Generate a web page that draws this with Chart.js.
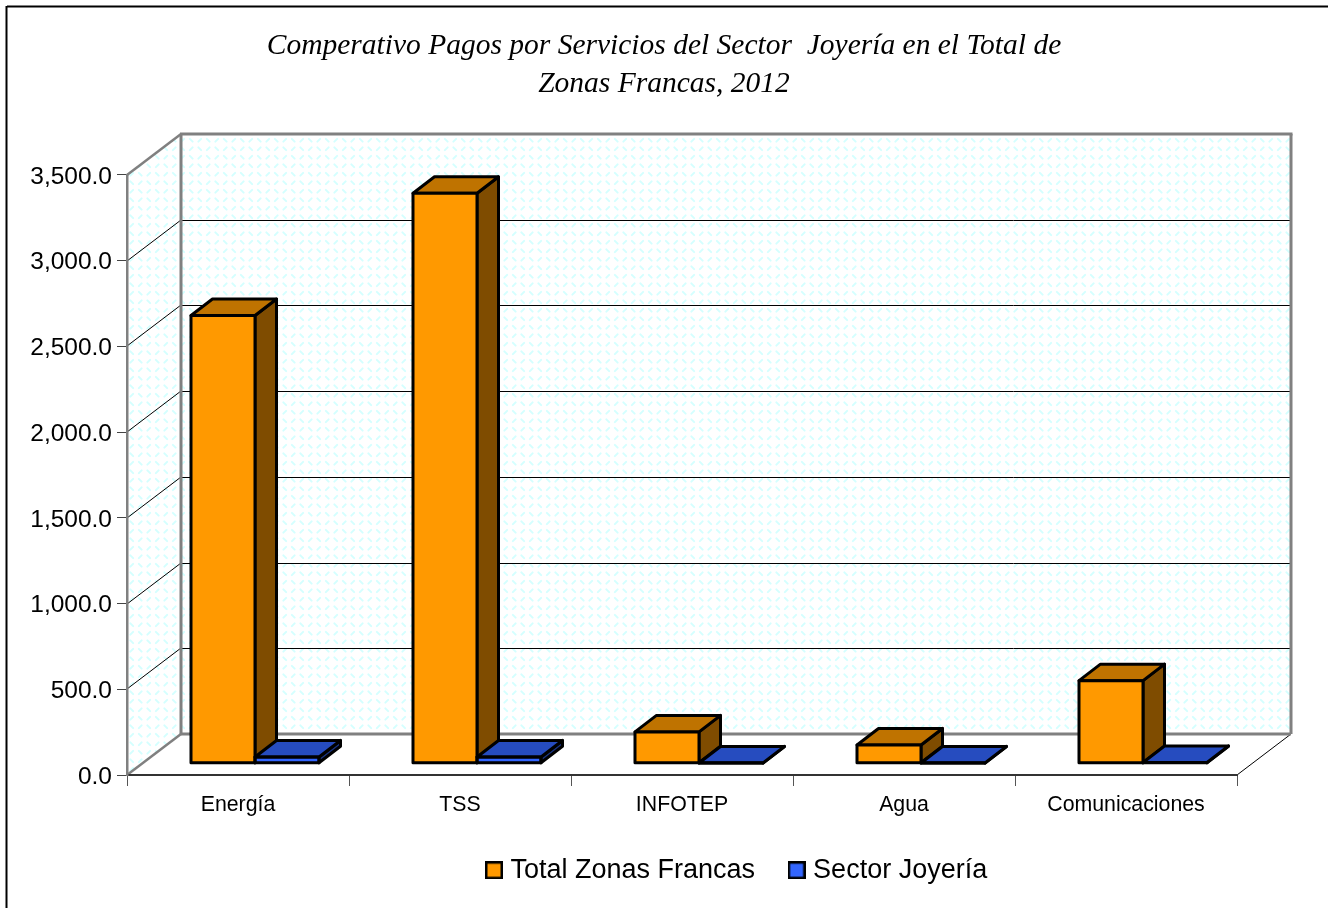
<!DOCTYPE html>
<html><head><meta charset="utf-8">
<style>html,body{margin:0;padding:0;background:#fff}#wrap{width:1328px;height:908px}</style>
<script src="https://cdn.jsdelivr.net/npm/chart.js@4"></script>
</head><body><div id="wrap"><canvas id="c" width="1328" height="908"></canvas></div>
<script>
const categories = ["Energía","TSS","INFOTEP","Agua","Comunicaciones"];
const totalZonas = [2612,3325,183,107,482];
const sectorJoyeria = [37,37,2,2,5];
const titleLines = ["Comperativo Pagos por Servicios del Sector  Joyería en el Total de","Zonas Francas, 2012"];
const seriesNames = ["Total Zonas Francas","Sector Joyería"];

const WALL = {dx:54, dy:41};
const BAR = {sx:17, sy:-11.7, dx:21.5, dy:16.5};
const STYLE = [
 {front:'#ff9900', top:'#bf7300', side:'#7f4c00'},
 {front:'#3366ff', top:'#264cbf', side:'#19337f'}
];
const OUT = 3;

function patternTile(ctx){
  const t=document.createElement('canvas'); t.width=17; t.height=17;
  const g=t.getContext('2d'); g.strokeStyle='#d4ffff'; g.lineWidth=2; g.lineCap='round';
  const seg=(x,y,d)=>{g.beginPath();g.moveTo(x-1.4,y-1.4*d);g.lineTo(x+1.4,y+1.4*d);g.stroke();};
  seg(4.25,4.25,1);seg(12.75,4.25,-1);seg(4.25,12.75,-1);seg(12.75,12.75,1);
  return ctx.createPattern(t,'repeat');
}
function poly(ctx,pts,fill,stroke,lw){
  ctx.beginPath();pts.forEach((p,i)=>i?ctx.lineTo(p[0],p[1]):ctx.moveTo(p[0],p[1]));ctx.closePath();
  if(fill){ctx.fillStyle=fill;ctx.fill();}
  if(stroke){ctx.strokeStyle=stroke;ctx.lineWidth=lw;ctx.lineJoin='round';ctx.stroke();}
}
function line(ctx,a,b,c,d,col,w){ctx.beginPath();ctx.moveTo(a,b);ctx.lineTo(c,d);ctx.strokeStyle=col;ctx.lineWidth=w;ctx.stroke();}
function geom(el){
  const l=el.x-el.width/2+BAR.sx, r=el.x+el.width/2+BAR.sx, t=el.y+BAR.sy, b=el.base+BAR.sy;
  return {l,r,t,b};
}
function drawSideTop(ctx,el,s){
  const g=geom(el);
  poly(ctx,[[g.r,g.t],[g.r+BAR.dx,g.t-BAR.dy],[g.r+BAR.dx,g.b-BAR.dy],[g.r,g.b]],s.side,'#000',OUT);
  poly(ctx,[[g.l,g.t],[g.r,g.t],[g.r+BAR.dx,g.t-BAR.dy],[g.l+BAR.dx,g.t-BAR.dy]],s.top,'#000',OUT);
}
function drawFrontOutline(ctx,el){
  const g=geom(el);
  poly(ctx,[[g.l,g.t],[g.r,g.t],[g.r,g.b],[g.l,g.b]],null,'#000',OUT);
}
const walls3d = {
  id:'walls3d',
  afterLayout(chart){
    const lg=chart.legend;
    const h=lg.height;
    lg.left=452.5; lg.right=1328;
    lg.top=856-h/2; lg.bottom=lg.top+h;
    chart.titleBlock.left=0; chart.titleBlock.right=1328;
  },
  beforeDraw(chart){
    const ctx=chart.ctx, a=chart.chartArea, y=chart.scales.y;
    ctx.save();
    ctx.fillStyle='#fff';ctx.fillRect(0,0,chart.width,chart.height);
    line(ctx,7,6.5,1328,6.5,'#000',2);
    line(ctx,6.5,6,6.5,908,'#000',2);
    const pat=patternTile(ctx);
    const L=a.left,R=a.right,T=a.top,B=a.bottom,dx=WALL.dx,dy=WALL.dy;
    poly(ctx,[[L,T],[L+dx,T-dy],[L+dx,B-dy],[L,B]],pat);
    poly(ctx,[[L+dx,T-dy],[R+dx,T-dy],[R+dx,B-dy],[L+dx,B-dy]],pat);
    y.ticks.forEach(t=>{
      if(t.value===0||t.value===y.max) return;
      const p=Math.round(y.getPixelForValue(t.value));
      line(ctx,L,p,L+dx,p-dy,'#000',1);
      line(ctx,L+dx,p-dy+.5,R+dx,p-dy+.5,'#000',1);
    });
    line(ctx,R,B,R+dx,B-dy,'#000',1);
    const gray='#808080';
    line(ctx,L+dx,B-dy,R+dx,B-dy,gray,3);
    line(ctx,L,B,L+dx,B-dy,gray,2.5);
    line(ctx,L,T,L+dx,T-dy,gray,2.5);
    line(ctx,L+dx-1,T-dy,R+dx+1.5,T-dy,gray,3);
    line(ctx,L+dx,T-dy,L+dx,B-dy,gray,3);
    line(ctx,R+dx,T-dy,R+dx,B-dy,gray,3);
    ctx.restore();
  },
  beforeDatasetsDraw(chart){
    const ctx=chart.ctx;
    ctx.save();
    chart.getDatasetMeta(0).data.forEach(el=>drawSideTop(ctx,el,STYLE[0]));
    ctx.restore();
  },
  beforeDatasetDraw(chart){chart.ctx.save();chart.ctx.translate(BAR.sx,BAR.sy);},
  afterDatasetDraw(chart){chart.ctx.restore();},
  afterDatasetsDraw(chart){
    const ctx=chart.ctx;
    ctx.save();
    chart.getDatasetMeta(0).data.forEach(el=>drawFrontOutline(ctx,el));
    chart.getDatasetMeta(1).data.forEach(el=>{drawSideTop(ctx,el,STYLE[1]);drawFrontOutline(ctx,el);});
    ctx.restore();
  }
};
function swatch(col){
  const s=document.createElement('canvas');s.width=18;s.height=18;
  const g=s.getContext('2d');g.fillStyle=col;g.fillRect(1,1,16,16);
  g.strokeStyle='#000';g.lineWidth=2.5;g.strokeRect(1.25,1.25,15.5,15.5);
  return s;
}
new Chart(document.getElementById('c'),{
  type:'bar',
  data:{labels:categories,datasets:[
    {label:seriesNames[0],data:totalZonas,backgroundColor:STYLE[0].front,borderWidth:0,clip:false,categoryPercentage:.5766,barPercentage:1},
    {label:seriesNames[1],data:sectorJoyeria,backgroundColor:STYLE[1].front,borderWidth:0,clip:false,categoryPercentage:.5766,barPercentage:1}
  ]},
  plugins:[walls3d],
  options:{
    responsive:false,animation:false,
    layout:{padding:{left:0,right:91,top:0,bottom:0}},
    plugins:{
      title:{display:true,text:titleLines,color:'#000',
        font:{family:'"Liberation Serif"',size:29.5,style:'italic',weight:'normal',lineHeight:1.288},
        padding:{top:27,bottom:72}},
      legend:{position:'bottom',align:'start',
        labels:{font:{family:'"Liberation Sans"',size:27},color:'#000',usePointStyle:true,pointStyleWidth:6,padding:38.5,
          generateLabels(chart){
            return chart.data.datasets.map((d,i)=>({text:d.label,pointStyle:swatch(d.backgroundColor),fillStyle:d.backgroundColor,strokeStyle:'#000',lineWidth:0,datasetIndex:i,hidden:false}));
          }}},
      tooltip:{enabled:false}
    },
    scales:{
      x:{
        afterFit(s){s.height=133-s.chart.legend.height;},
        grid:{drawOnChartArea:false,drawTicks:true,tickLength:11,color:'#555',offset:true},
        border:{color:'#333',width:2},
        ticks:{color:'#000',font:{family:'"Liberation Sans"',size:21.3},padding:6,maxRotation:0,autoSkip:false}
      },
      y:{
        min:0,max:3500,
        afterFit(s){s.width=127;},
        grid:{drawOnChartArea:false,drawTicks:true,tickLength:10,color:'#444'},
        border:{color:'#808080',width:2.5},
        ticks:{stepSize:500,color:'#000',font:{family:'"Liberation Sans"',size:24.5},padding:5,labelOffset:2,
          callback:v=>v.toLocaleString('en-US',{minimumFractionDigits:1,maximumFractionDigits:1})}
      }
    }
  }
});
</script></body></html>
